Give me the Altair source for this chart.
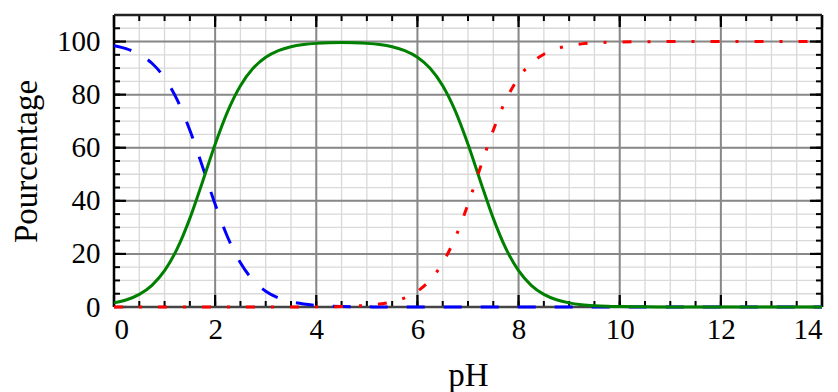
import altair as alt
import pandas as pd

# ---- data ----
ph = [0, 0.25, 0.5, 0.75, 1, 1.25, 1.5, 1.75, 2, 2.25, 2.5, 2.75, 3, 3.25, 3.5, 3.75,
      4, 4.25, 4.5, 4.75, 5, 5.25, 5.5, 5.75, 6, 6.25, 6.5, 6.75, 7, 7.25, 7.5, 7.75,
      8, 8.25, 8.5, 8.75, 9, 9.25, 9.5, 9.75, 10, 10.5, 11, 12, 13, 14]
h2a = [98.44, 97.26, 95.23, 91.82, 86.32, 78.02, 66.61, 52.88, 38.69, 26.19, 16.63, 10.09,
       5.94, 3.43, 1.96, 1.11, 0.63, 0.35, 0.20, 0.11, 0.06, 0.03, 0.02, 0.01,
       0, 0, 0, 0, 0, 0, 0, 0, 0, 0, 0, 0, 0, 0, 0, 0, 0, 0, 0, 0, 0, 0]
ha = [1.56, 2.74, 4.77, 8.18, 13.68, 21.98, 33.39, 47.12, 61.31, 73.81, 83.37, 89.91,
      94.06, 96.57, 98.04, 98.86, 99.31, 99.54, 99.60, 99.53, 99.31, 98.86, 98.02, 96.56,
      94.07, 89.91, 83.37, 73.81, 61.31, 47.12, 33.39, 21.98, 13.68, 8.18, 4.77, 2.74,
      1.56, 0.88, 0.50, 0.28, 0.16, 0.05, 0.02, 0, 0, 0]
a2 = [0, 0, 0, 0, 0, 0, 0, 0, 0, 0, 0, 0, 0, 0, 0, 0.03,
      0.06, 0.11, 0.20, 0.35, 0.63, 1.11, 1.96, 3.43, 5.93, 10.09, 16.63, 26.19, 38.69,
      52.88, 66.61, 78.02, 86.32, 91.82, 95.23, 97.26, 98.44, 99.12, 99.50, 99.72, 99.84,
      99.95, 99.98, 100, 100, 100]

x_major = [0, 2, 4, 6, 8, 10, 12, 14]
x_minor = [i * 0.5 for i in range(29)]
y_major = [0, 20, 40, 60, 80, 100]
y_minor = [i * 5 for i in range(23)]

W, H = 708, 292
FONT = "Liberation Serif, DejaVu Serif, serif"

xs = alt.Scale(domain=[0, 14], nice=False, zero=False)
ys = alt.Scale(domain=[0, 110], nice=False, zero=False)

xaxis = alt.Axis(values=x_major, domain=False, ticks=False, grid=False,
                 labelFont=FONT, labelFontSize=29, labelColor="black",
                 labelPadding=8, labelBaseline="top",
                 title="pH", titleFont=FONT, titleFontSize=33, titleFontWeight="normal",
                 titleColor="black", titleY=78, titleBaseline="alphabetic")
yaxis = alt.Axis(values=y_major, domain=False, ticks=False, grid=False,
                 labelFont=FONT, labelFontSize=29, labelColor="black",
                 labelPadding=14,
                 title="Pourcentage", titleFont=FONT, titleFontSize=33,
                 titleFontWeight="normal", titleColor="black",
                 titleX=-78, titleY=H / 2, titleAngle=-90, titleAlign="center",
                 titleBaseline="alphabetic")

dfx_minor = pd.DataFrame({"v": x_minor})
dfx_major = pd.DataFrame({"v": x_major})
dfy_minor = pd.DataFrame({"v": y_minor})
dfy_major = pd.DataFrame({"v": y_major})
one = pd.DataFrame({"a": [0]})


def vgrid(df, color, width):
    return alt.Chart(df).mark_rule(color=color, strokeWidth=width).encode(
        x=alt.X("v:Q", scale=xs, axis=xaxis), y=alt.value(0), y2=alt.value(H))


def hgrid(df, color, width):
    return alt.Chart(df).mark_rule(color=color, strokeWidth=width).encode(
        y=alt.Y("v:Q", scale=ys, axis=yaxis), x=alt.value(0), x2=alt.value(W))


def xticks(df, length, width):
    b = alt.Chart(df).mark_rule(color="black", strokeWidth=width).encode(
        x=alt.X("v:Q", scale=xs, axis=xaxis), y=alt.value(H), y2=alt.value(H - length))
    t = alt.Chart(df).mark_rule(color="black", strokeWidth=width).encode(
        x=alt.X("v:Q", scale=xs, axis=xaxis), y=alt.value(0), y2=alt.value(length))
    return b + t


def yticks(df, length, width):
    l = alt.Chart(df).mark_rule(color="black", strokeWidth=width).encode(
        y=alt.Y("v:Q", scale=ys, axis=yaxis), x=alt.value(0), x2=alt.value(length))
    r = alt.Chart(df).mark_rule(color="black", strokeWidth=width).encode(
        y=alt.Y("v:Q", scale=ys, axis=yaxis), x=alt.value(W), x2=alt.value(W - length))
    return l + r


def frame_side(x1, x2, y1, y2, color):
    return alt.Chart(one).mark_rule(color=color, strokeWidth=2.5).encode(
        x=alt.value(x1), x2=alt.value(x2), y=alt.value(y1), y2=alt.value(y2))


frame = (frame_side(0, 0, 0, H, "black") + frame_side(W, W, 0, H, "black")
         + frame_side(0, W, 0, 0, "#222222") + frame_side(0, W, H, H, "#444444"))

df_h2a = pd.DataFrame({"pH": ph, "p": h2a})
df_ha = pd.DataFrame({"pH": ph, "p": ha})
df_a2 = pd.DataFrame({"pH": ph, "p": a2})


def curve(df, color, dash=None):
    kw = dict(color=color, strokeWidth=3, interpolate="monotone", strokeCap="butt")
    if dash is not None:
        kw["strokeDash"] = dash
    return alt.Chart(df).mark_line(**kw).encode(
        x=alt.X("pH:Q", scale=xs, axis=xaxis),
        y=alt.Y("p:Q", scale=ys, axis=yaxis))


chart = alt.layer(
    vgrid(dfx_minor, "#d9d9d9", 1.3),
    hgrid(dfy_minor, "#d9d9d9", 1.3),
    vgrid(dfx_major, "#888888", 2),
    hgrid(dfy_major, "#888888", 2),
    xticks(dfx_minor, 6, 2),
    xticks(dfx_major, 12, 2.2),
    yticks(dfy_minor, 6, 2),
    yticks(dfy_major, 12, 2.2),
    frame,
    curve(df_h2a, "#0000ff", [18, 19]),
    curve(df_ha, "#008000"),
    curve(df_a2, "#ff0000", [9, 16, 3, 16]),
).properties(
    width=W, height=H,
    autosize=alt.AutoSizeParams(type="none"),
    padding={"left": 106, "top": 7, "right": 8, "bottom": 85},
).configure_view(stroke=None)

chart.save("out.html", embed_options={"renderer": "svg", "actions": False})
